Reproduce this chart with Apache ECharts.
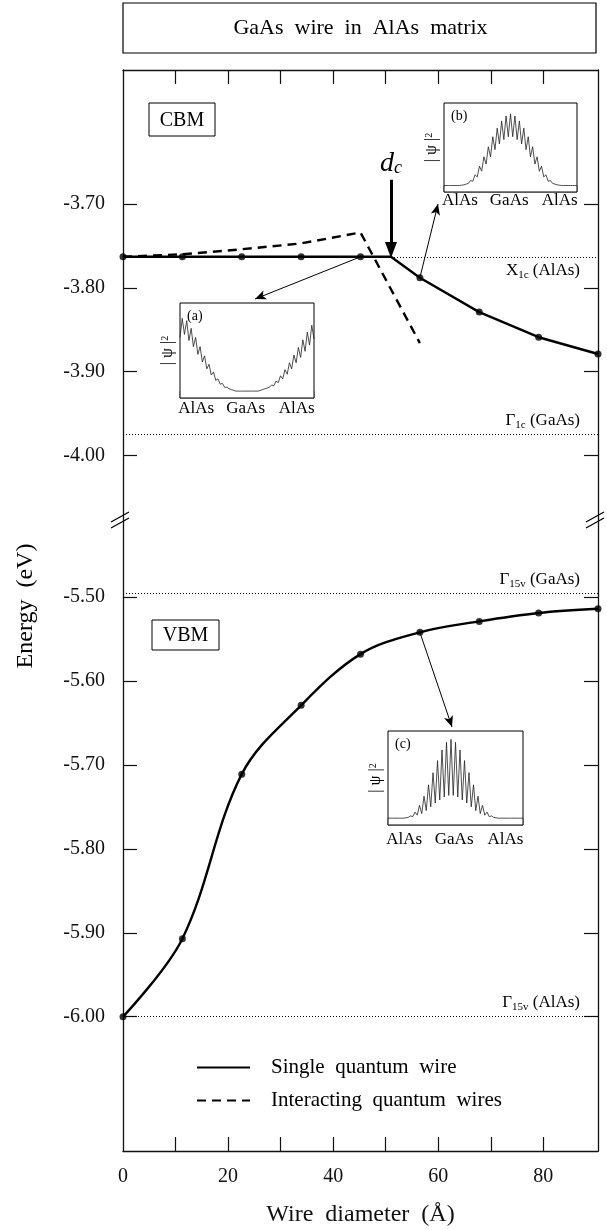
<!DOCTYPE html>
<html><head><meta charset="utf-8">
<script src="https://cdn.jsdelivr.net/npm/echarts@6/dist/echarts.min.js"></script>
<style>html,body{margin:0;padding:0;background:#fff}#c{width:607px;height:1230px}</style>
</head><body><div id="c"></div>
<script>
// ---------------- data ----------------
const diameters   = [0, 11.3, 22.6, 33.9, 45.2, 56.5, 67.8, 79.1, 90.4];
const cbmSingle   = [-3.763, -3.763, -3.763, -3.763, -3.763, -3.788, -3.829, -3.859, -3.879];
const vbmSingle   = [-6.000, -5.907, -5.711, -5.629, -5.568, -5.542, -5.529, -5.519, -5.514];
const interactX   = [0, 11.3, 22.6, 33.9, 45.2, 56.5];
const cbmInteract = [-3.763, -3.760, -3.754, -3.747, -3.734, -3.866];
const dcDiameter  = 51;
const dcArrowY    = [-3.671, -3.755];
const levelX1cAlAs   = -3.763;
const levelG1cGaAs   = -3.975;
const levelG15vGaAs  = -5.496;
const levelG15vAlAs  = -6.000;
const upperTicks  = [-3.70, -3.80, -3.90, -4.00];
const lowerTicks  = [-5.50, -5.60, -5.70, -5.80, -5.90, -6.00];
const xTicks      = [10, 20, 30, 40, 50, 60, 70, 80];
const xTickLabels = [0, 20, 40, 60, 80];
const legendNames = ['Single quantum wire', 'Interacting quantum wires'];
const insetRegions = ['AlAs', 'GaAs', 'AlAs'];
const insetBarsA = [0, 0.24, 0.76, 1];
const insetBarsB = [0, 0.225, 0.78, 1];
const insetBarsC = [0, 0.225, 0.775, 1];
const insetA = [0.70,0.95,0.74,0.92,0.66,0.82,0.58,0.70,0.48,0.58,0.38,0.46,0.29,0.35,0.21,0.25,0.14,0.16,0.09,0.10,0.05,0.05,0.03,0.02,0.01,
  0,0,0,0,0,0,0,0,0,0,0,
  0.01,0.02,0.03,0.04,0.05,0.08,0.07,0.13,0.11,0.20,0.16,0.28,0.22,0.37,0.29,0.47,0.37,0.57,0.44,0.67,0.52,0.77,0.60,0.86,0.68];
const insetB = [0,0,0,0,0,0,0,0,0.005,0.01,0.02,0.03,0.07,0.06,0.15,0.12,0.27,0.20,0.40,0.30,0.54,0.40,0.68,0.50,0.80,0.58,0.90,0.64,0.97,0.68,
  1.00,0.68,0.97,0.64,0.90,0.58,0.80,0.50,0.68,0.40,0.54,0.30,0.40,0.20,0.27,0.12,0.15,0.06,0.07,0.03,0.02,0.01,0.005,0,0,0,0,0,0,0,0];
const insetC = [0,0,0,0,0,0,0,0,0.005,0.01,0.03,0.02,0.08,0.04,0.17,0.06,0.29,0.10,0.44,0.15,0.60,0.20,0.76,0.24,0.90,0.28,1.00,0.30,
  1.04,0.30,1.00,0.28,0.90,0.24,0.76,0.20,0.60,0.15,0.44,0.10,0.29,0.06,0.17,0.04,0.08,0.02,0.03,0.01,0.005,0,0,0,0,0,0,0,0,0,0,0,0];

// ---------------- layout ----------------
const SERIF = '"Liberation Serif","DejaVu Serif",serif';
const INK = '#111';
const X_MIN = 0, X_MAX = 90.4;
const PL = 123, PR = 598, PT = 70, BRK = 519, PB = 1151;
const insets = [
  {name:'(a)', data: insetA, bars: insetBarsA, left:180, top:303, width:134, height:95, labelGap:11, tip:[255,299]},
  {name:'(b)', data: insetB, bars: insetBarsB, left:444, top:103, width:133, height:89, labelGap:9,  tip:[438,204]},
  {name:'(c)', data: insetC, bars: insetBarsC, left:388, top:731, width:135, height:94, labelGap:15, tip:[452,727]}
];

const chart = echarts.init(document.getElementById('c'), null, {renderer:'canvas'});

const axisLineStyle = {show:true, lineStyle:{color:INK, width:1.3}};
const tickStyle = {color:INK, width:1.2};
const labelFont = {fontFamily:SERIF, fontSize:20, color:INK};

function yAx(grid, pos, range, ticks, labels) {
  return {gridIndex:grid, type:'value', position:pos, min:range[0], max:range[1],
    axisLine:axisLineStyle,
    axisTick:{show:true, inside:true, length:14, customValues:ticks, lineStyle:tickStyle},
    axisLabel: labels ? Object.assign({show:true, customValues:ticks, margin:18, formatter:v=>Number(v).toFixed(2)}, labelFont) : {show:false},
    splitLine:{show:false}};
}
const upperRange = [-4.076, -3.54];
const lowerRange = [-6.16, -5.407];

const grids = [
  {left:PL, right:607-PR, top:PT, height:BRK-PT, outerBoundsMode:'none'},
  {left:PL, right:607-PR, top:BRK, height:PB-BRK, outerBoundsMode:'none'}
];
const xAxes = [
  {gridIndex:0, type:'value', position:'top', min:X_MIN, max:X_MAX, axisLine:axisLineStyle,
   axisTick:{show:true, inside:true, length:14, customValues:xTicks, lineStyle:tickStyle}, axisLabel:{show:false}, splitLine:{show:false}},
  {gridIndex:1, type:'value', position:'bottom', min:X_MIN, max:X_MAX, axisLine:axisLineStyle,
   axisTick:{show:true, inside:true, length:14, customValues:xTicks, lineStyle:tickStyle},
   axisLabel:Object.assign({show:true, customValues:xTickLabels, margin:16}, labelFont), splitLine:{show:false},
   name:'Wire  diameter  (Å)', nameLocation:'middle', nameGap:52, nameTextStyle:{fontFamily:SERIF, fontSize:24, color:INK}}
];
const yAxes = [
  yAx(0,'left',upperRange,upperTicks,true), yAx(0,'right',upperRange,upperTicks,false),
  yAx(1,'left',lowerRange,lowerTicks,true), yAx(1,'right',lowerRange,lowerTicks,false)
];

const levelStyle = {type:[1,2], width:1, color:'#000'};
const richSub = {
  m:{fontFamily:SERIF, fontSize:17, color:'#000', lineHeight:20},
  s:{fontFamily:SERIF, fontSize:11, color:'#000', verticalAlign:'bottom', lineHeight:11}
};
function levelLine(x0, y, text, pos) {
  return [{coord:[x0, y], symbol:'none', lineStyle:levelStyle,
           label:{show:true, position:pos, formatter:text, rich:richSub, fontFamily:SERIF, fontSize:17, color:'#000', distance:4, padding:[0,14,0,0]}},
          {coord:[X_MAX, y], symbol:'none'}];
}
function arrowLine(from, tip) {
  return [{coord:from, symbol:'none', lineStyle:{type:'solid', width:1, color:'#000'}, label:{show:false}},
          {x:tip[0], y:tip[1], symbol:'arrow', symbolSize:[7,11]}];
}

const cbmLineData = diameters.map((d,i)=>[d, cbmSingle[i]]).concat([[dcDiameter, levelX1cAlAs]]).sort((a,b)=>a[0]-b[0]);

const series = [
  {name:legendNames[0], type:'line', xAxisIndex:0, yAxisIndex:0, data:cbmLineData, symbol:'none',
   lineStyle:{color:'#000', width:2.4}, itemStyle:{color:'#000'}, z:5, silent:true,
   markLine:{silent:true, animation:false, symbol:'none', label:{show:false}, data:[
     levelLine(dcDiameter, levelX1cAlAs, '{m|X}{s|1c} (AlAs)', 'insideEndBottom'),
     levelLine(X_MIN, levelG1cGaAs, '{m|Γ}{s|1c} (GaAs)', 'insideEndTop'),
     arrowLine([diameters[4], cbmSingle[4]], insets[0].tip),
     arrowLine([diameters[5], cbmSingle[5]], insets[1].tip),
     [{coord:[dcDiameter, dcArrowY[0]], symbol:'none', lineStyle:{type:'solid', width:3, color:'#000'},
       label:{show:true, position:'start', distance:2, formatter:'{d|d}{c|c}', rich:{
         d:{fontFamily:SERIF, fontStyle:'italic', fontSize:28, color:'#000', lineHeight:28},
         c:{fontFamily:SERIF, fontStyle:'italic', fontSize:18, color:'#000', verticalAlign:'bottom', lineHeight:16}}}},
      {coord:[dcDiameter, dcArrowY[1]], symbol:'triangle', symbolSize:[12,16]}]
   ]}},
  {type:'scatter', xAxisIndex:0, yAxisIndex:0, data:diameters.map((d,i)=>[d, cbmSingle[i]]), symbolSize:7, itemStyle:{color:'#000'}, z:6, silent:true},
  {name:legendNames[1], type:'line', xAxisIndex:0, yAxisIndex:0, data:interactX.map((d,i)=>[d, cbmInteract[i]]), symbol:'none',
   lineStyle:{color:'#000', width:2.4, type:[9,6]}, itemStyle:{color:'#000'}, z:4, silent:true},
  {name:legendNames[0], type:'line', xAxisIndex:1, yAxisIndex:2, data:diameters.map((d,i)=>[d, vbmSingle[i]]), symbol:'none', smooth:0.35,
   lineStyle:{color:'#000', width:2.4}, itemStyle:{color:'#000'}, z:5, silent:true,
   markLine:{silent:true, animation:false, symbol:'none', label:{show:false}, data:[
     levelLine(X_MIN, levelG15vGaAs, '{m|Γ}{s|15v} (GaAs)', 'insideEndTop'),
     levelLine(X_MIN, levelG15vAlAs, '{m|Γ}{s|15v} (AlAs)', 'insideEndTop'),
     arrowLine([diameters[5], vbmSingle[5]], insets[2].tip)
   ]}},
  {type:'scatter', xAxisIndex:1, yAxisIndex:2, data:diameters.map((d,i)=>[d, vbmSingle[i]]), symbolSize:7, itemStyle:{color:'#000'}, z:6, silent:true}
];

// insets
insets.forEach((ins, k) => {
  const gi = 2 + k;
  const n = ins.data.length - 1;
  grids.push({left:ins.left, top:ins.top, width:ins.width, height:ins.height, show:true, borderColor:'#000', borderWidth:1, backgroundColor:'#fff', outerBoundsMode:'none', z:8});
  xAxes.push({gridIndex:gi, type:'value', min:0, max:n, show:false});
  yAxes.push({gridIndex:gi, type:'value', min:-0.09, max:1.15, show:false});
  const fills = ['#b4b4b4', '#000', '#b4b4b4'];
  series.push({type:'line', xAxisIndex:2+k, yAxisIndex:4+k, data:ins.data.map((v,i)=>[i,v]), symbol:'none', silent:true, z:9,
    lineStyle:{color:'#222', width:0.8},
    markArea:{silent:true, animation:false, data: [0,1,2].map(j => [
      {xAxis:ins.bars[j]*n, yAxis:-0.09, itemStyle:{color:fills[j], borderColor:'#000', borderWidth:0.6}},
      {xAxis:ins.bars[j+1]*n, yAxis:0}])}
  });
});

// graphics (frame decorations and text boxes)
const graphic = [];
graphic.push({type:'rect', shape:{x:PL, y:3, width:PR-PL-2, height:50}, style:{fill:'#fff', stroke:'#000', lineWidth:1.2}});
graphic.push({type:'text', x:(PL+PR)/2, y:28, style:{text:'GaAs  wire  in  AlAs  matrix', font:'22px ' + SERIF, fill:'#000', align:'center', verticalAlign:'middle'}});
function boxText(x, y, w, h, t) {
  graphic.push({type:'rect', shape:{x, y, width:w, height:h}, style:{fill:'#fff', stroke:'#000', lineWidth:1}});
  graphic.push({type:'text', x:x+w/2, y:y+h/2+1, style:{text:t, font:'20px ' + SERIF, fill:'#000', align:'center', verticalAlign:'middle'}});
}
boxText(149, 103, 66, 33, 'CBM');
boxText(152, 620, 67, 30, 'VBM');
graphic.push({type:'text', x:26, y:606, rotation:Math.PI/2, style:{text:'Energy  (eV)', font:'24px ' + SERIF, fill:'#000', align:'center', verticalAlign:'middle'}});
[PL, PR].forEach(ax => {
  [-3, 3].forEach(off => {
    graphic.push({type:'line', shape:{x1:ax-12, y1:BRK+off+6, x2:ax+6, y2:BRK+off-4}, style:{stroke:'#000', lineWidth:1.3}});
  });
});
insets.forEach(ins => {
  graphic.push({type:'text', x:ins.left+7, y:ins.top+6, z:100, style:{text:ins.name, font:'14px ' + SERIF, fill:'#000', align:'left', verticalAlign:'top'}});
  graphic.push({type:'text', x:ins.left-12, y:ins.top+ins.height*0.5, rotation:Math.PI/2, z:100,
    style:{text:'{a|| ψ |}{b|2}', rich:{a:{font:'16px ' + SERIF, fill:'#000'}, b:{font:'10px ' + SERIF, fill:'#000', verticalAlign:'top'}}, align:'center', verticalAlign:'middle'}});
  const fr = [0.12, 0.49, 0.87];
  insetRegions.forEach((r, j) => {
    graphic.push({type:'text', x:ins.left+ins.width*fr[j], y:ins.top+ins.height+ins.labelGap, z:100,
      style:{text:r, font:'17px ' + SERIF, fill:'#000', align:'center', verticalAlign:'middle'}});
  });
});

chart.setOption({
  animation:false,
  backgroundColor:'#fff',
  grid:grids, xAxis:xAxes, yAxis:yAxes, series,
  legend:{data:legendNames, orient:'vertical', left:191, top:1052, itemWidth:53, itemHeight:14, itemGap:12, selectedMode:false,
    itemStyle:{opacity:0},
    formatter:name=>name.replace(/ /g,'  '),
    textStyle:{fontFamily:SERIF, fontSize:21, color:'#000', padding:[0,0,0,16]}},
  graphic
});
</script></body></html>
